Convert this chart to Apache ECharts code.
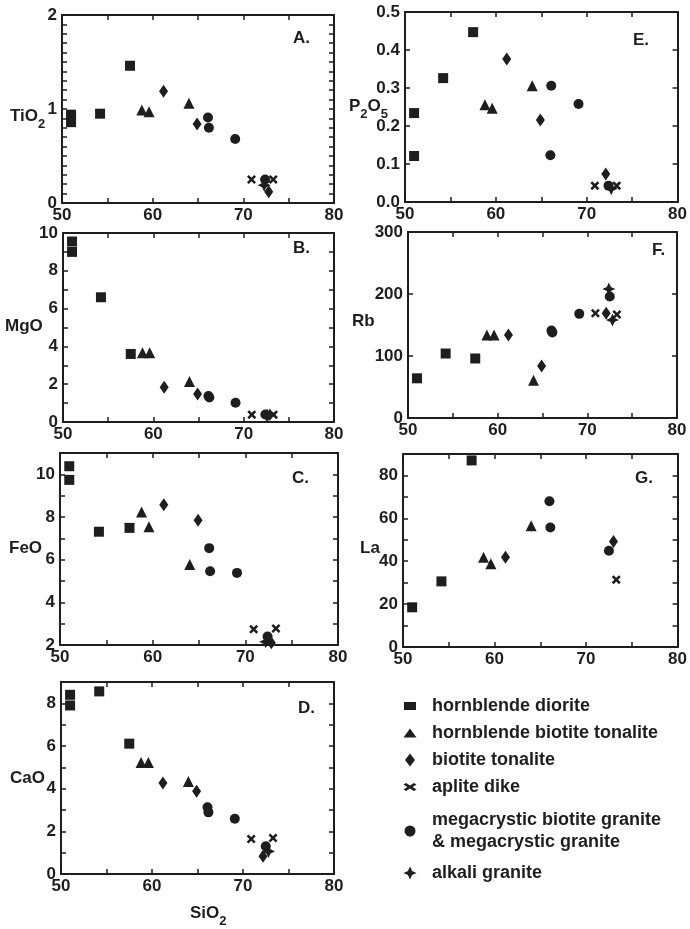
<!DOCTYPE html>
<html><head><meta charset="utf-8">
<script src="https://cdn.jsdelivr.net/npm/echarts@6/dist/echarts.min.js"></script>
<style>html,body{margin:0;padding:0;background:#fff}#c{width:690px;height:929px}</style>
</head><body><div id="c"></div>
<script>
// ---------- DATA ----------
const categories = ['hornblende diorite','hornblende biotite tonalite','biotite tonalite','aplite dike','megacrystic biotite granite\n& megacrystic granite','alkali granite'];
const xTickValues = [50,55,60,65,70,75,80];
const xLabelValues = [50,60,70,80];
// each entry: [categoryIndex, SiO2, value]
const panelA_TiO2 = [[0,51.0,0.94],[0,51.0,0.86],[0,54.2,0.95],[0,57.5,1.46],[1,58.8,0.99],[1,59.6,0.97],[1,64.0,1.06],[2,61.2,1.19],[2,64.9,0.84],[2,72.8,0.12],[3,70.9,0.25],[3,73.3,0.25],[4,66.1,0.91],[4,66.2,0.80],[4,69.1,0.68],[4,72.4,0.25],[5,72.3,0.19]];
const panelB_MgO = [[0,51.0,9.55],[0,51.0,9.0],[0,54.2,6.6],[0,57.5,3.6],[1,58.8,3.66],[1,59.6,3.66],[1,64.0,2.14],[2,61.2,1.84],[2,64.9,1.48],[2,72.6,0.35],[3,70.9,0.39],[3,73.3,0.39],[4,66.1,1.38],[4,66.2,1.30],[4,69.1,1.02],[4,72.4,0.40],[5,72.9,0.38]];
const panelC_FeO = [[0,51.0,10.38],[0,51.0,9.74],[0,54.2,7.31],[0,57.5,7.49],[1,58.8,8.23],[1,59.6,7.54],[1,64.0,5.77],[2,61.2,8.58],[2,64.9,7.85],[2,72.8,2.1],[3,70.9,2.74],[3,73.3,2.77],[4,66.1,6.54],[4,66.2,5.46],[4,69.1,5.38],[4,72.4,2.4],[5,72.2,2.15]];
const panelD_CaO = [[0,51.0,8.4],[0,51.0,7.9],[0,54.2,8.56],[0,57.5,6.11],[1,58.8,5.23],[1,59.6,5.23],[1,64.0,4.34],[2,61.2,4.27],[2,64.9,3.88],[2,72.2,0.83],[3,70.9,1.64],[3,73.3,1.69],[4,66.1,3.13],[4,66.2,2.89],[4,69.1,2.59],[4,72.5,1.3],[5,72.8,1.06]];
const panelE_P2O5 = [[0,51.0,0.234],[0,51.0,0.121],[0,54.2,0.326],[0,57.5,0.447],[1,58.8,0.256],[1,59.6,0.247],[1,64.0,0.306],[2,61.2,0.376],[2,64.9,0.216],[2,72.1,0.074],[3,70.9,0.043],[3,73.3,0.043],[4,66.1,0.306],[4,66.0,0.123],[4,69.1,0.258],[4,72.4,0.043],[5,72.7,0.035]];
const panelF_Rb = [[0,51.0,64],[0,54.2,104],[0,57.5,96],[1,58.8,134],[1,59.6,134],[1,64.0,61],[2,61.2,134],[2,64.9,84],[2,72.1,169],[3,70.9,169],[3,73.3,167],[4,66.0,141],[4,66.1,138],[4,69.1,168],[4,72.5,196],[5,72.4,208],[5,72.8,158]];
const panelG_La = [[0,51.0,18.5],[0,54.2,30.6],[0,57.5,87],[1,58.8,41.8],[1,59.6,38.8],[1,64.0,56.5],[2,61.2,41.8],[2,73.0,49.2],[3,73.3,31.4],[4,66.0,68],[4,66.1,55.7],[4,72.5,44.9]];

// ---------- STYLE ----------
const INK = '#1e1e1e';
const FONT = '"Liberation Sans", Arial, Helvetica, sans-serif';
const P_X = 'path://M2,0 L5,3 L8,0 L10,2 L7,5 L10,8 L8,10 L5,7 L2,10 L0,8 L3,5 L0,2 Z';
const P_STAR = 'path://M5,0 L6.6,3.4 L10,5 L6.6,6.6 L5,10 L3.4,6.6 L0,5 L3.4,3.4 Z';
const symbols = ['rect','triangle','diamond', P_X, 'circle', P_STAR];
const symbolSizes = [10, 11, [9,13], 9, 10, 13];
// legend icons keep their own aspect ratio
const legendIcons = ['path://M0,0 L12,0 L12,8 L0,8 Z', 'path://M6.5,0 L13,9 L0,9 Z', 'path://M5,0 L10,6.5 L5,13 L0,6.5 Z',
  'path://M2.6,0 L6.5,2.4 L10.4,0 L13,1.6 L9.1,4 L13,6.4 L10.4,8 L6.5,5.6 L2.6,8 L0,6.4 L3.9,4 L0,1.6 Z', 'circle', P_STAR];
const legendIconH = [8, 9, 13, 8, 11, 13];
const legendIconW = [12, 13, 10, 13, 11, 13];

const isNear = (v, k) => Math.abs(v/k - Math.round(v/k)) < 1e-6;
const panels = [
  {data: panelA_TiO2, yMin:0, yMax:2, yInt:0.1, fmt: v => isNear(v,1) ? String(Math.round(v)) : '',
   grid:{left:62, top:15, width:272, height:188}, name:[['TiO',0],['2',1]], nx:10, ny:118, letter:'A.', lx:293, ly:40},
  {data: panelE_P2O5, yMin:0, yMax:0.5, yInt:0.1, fmt: v => v.toFixed(1),
   grid:{left:405, top:12, width:273, height:190}, name:[['P',0],['2',1],['O',0],['5',1]], nx:349, ny:108, letter:'E.', lx:633, ly:42},
  {data: panelB_MgO, yMin:0, yMax:10, yInt:1, fmt: v => isNear(v,2) ? String(Math.round(v)) : '',
   grid:{left:63, top:233, width:271, height:189}, name:[['MgO',0]], nx:5, ny:328, letter:'B.', lx:293, ly:250},
  {data: panelF_Rb, yMin:0, yMax:300, yInt:100, fmt: v => String(Math.round(v)),
   grid:{left:408, top:232, width:269, height:186}, name:[['Rb',0]], nx:352, ny:323, letter:'F.', lx:652, ly:252},
  {data: panelC_FeO, yMin:2, yMax:11, yInt:1, fmt: v => (isNear(v,2) && v <= 10) ? String(Math.round(v)) : '',
   grid:{left:60, top:453, width:278, height:192}, name:[['FeO',0]], nx:9, ny:550, letter:'C.', lx:292, ly:480},
  {data: panelG_La, yMin:0, yMax:90, yInt:10, fmt: v => isNear(v,20) ? String(Math.round(v)) : '',
   grid:{left:403, top:454, width:275, height:193}, name:[['La',0]], nx:360, ny:550, letter:'G.', lx:635, ly:480},
  {data: panelD_CaO, yMin:0, yMax:9, yInt:1, fmt: v => isNear(v,2) ? String(Math.round(v)) : '',
   grid:{left:61, top:682, width:273, height:192}, name:[['CaO',0]], nx:10, ny:780, letter:'D.', lx:298, ly:710}
];

const canvas = document.createElement('canvas');
const ctx2d = canvas.getContext('2d');
function textW(t, size){ ctx2d.font = 'bold ' + size + 'px ' + FONT; return ctx2d.measureText(t).width; }
function chemLabel(parts, x, yc){
  const out = []; let cx = x;
  parts.forEach(([t, sub]) => {
    const size = sub ? 13 : 17;
    out.push({type:'text', left: cx, top: yc + (sub ? 0 : -10), silent:true,
      style:{text:t, font:'bold ' + size + 'px ' + FONT, fill: INK}});
    cx += textW(t, size);
  });
  return out;
}

const grids = [], xAxes = [], yAxes = [], series = [], graphics = [];
const lineStyle = {color: INK, width: 2};
panels.forEach((p, i) => {
  grids.push(Object.assign({containLabel:false}, p.grid));
  const xBase = {gridIndex:i, type:'value', min:50, max:80, interval:5,
    axisLine:{show:true, onZero:false, lineStyle}, axisTick:{show:true, inside:true, length:5, lineStyle:{color:INK, width:1.5}},
    splitLine:{show:false}};
  xAxes.push(Object.assign({}, xBase, {position:'bottom',
    axisLabel:{show:true, margin:4, color:INK, fontSize:17, fontWeight:'bold', fontFamily:FONT,
      formatter: v => xLabelValues.includes(Math.round(v)) && xTickValues.includes(Math.round(v)) ? String(Math.round(v)) : ''}}));
  xAxes.push(Object.assign({}, xBase, {position:'top', axisLabel:{show:false}}));
  const yBase = {gridIndex:i, type:'value', min:p.yMin, max:p.yMax, interval:p.yInt,
    axisLine:{show:true, onZero:false, lineStyle}, axisTick:{show:true, inside:true, length:5, lineStyle:{color:INK, width:1.5}},
    splitLine:{show:false}};
  yAxes.push(Object.assign({}, yBase, {position:'left',
    axisLabel:{show:true, margin:5, color:INK, fontSize:17, fontWeight:'bold', fontFamily:FONT, formatter:p.fmt}}));
  yAxes.push(Object.assign({}, yBase, {position:'right', axisLabel:{show:false}}));
  categories.forEach((cat, c) => {
    series.push({type:'scatter', name:cat, xAxisIndex:2*i, yAxisIndex:2*i, clip:false,
      symbol:symbols[c], symbolSize:symbolSizes[c], itemStyle:{color:INK, opacity:1},
      data: p.data.filter(d => d[0] === c).map(d => [d[1], d[2]])});
  });
  chemLabel(p.name, p.nx, p.ny).forEach(g => graphics.push(g));
  graphics.push({type:'text', left:p.lx, top:p.ly - 10, silent:true,
    style:{text:p.letter, font:'bold 17px ' + FONT, fill: INK}});
});
chemLabel([['SiO',0],['2',1]], 190, 915).forEach(g => graphics.push(g));

// legend: one component per row for exact row placement
const legendTops = [695, 722, 749, 776, 809, 862];
const legends = categories.map((cat, c) => ({
  data:[{name:cat, icon:legendIcons[c]}], orient:'vertical', left: 410 - legendIconW[c]/2, top:legendTops[c],
  itemWidth:34, itemHeight:legendIconH[c], symbolKeepAspect:true, selectedMode:false, padding:0,
  textStyle:{color:INK, fontSize:18, fontWeight:'bold', fontFamily:FONT, lineHeight:22},
  itemStyle:{color:INK}
}));

const chart = echarts.init(document.getElementById('c'), null, {renderer:'canvas'});
chart.setOption({
  backgroundColor:'#fff', animation:false,
  textStyle:{fontFamily:FONT},
  grid:grids, xAxis:xAxes, yAxis:yAxes, series:series, legend:legends, graphic:graphics
});
</script></body></html>
